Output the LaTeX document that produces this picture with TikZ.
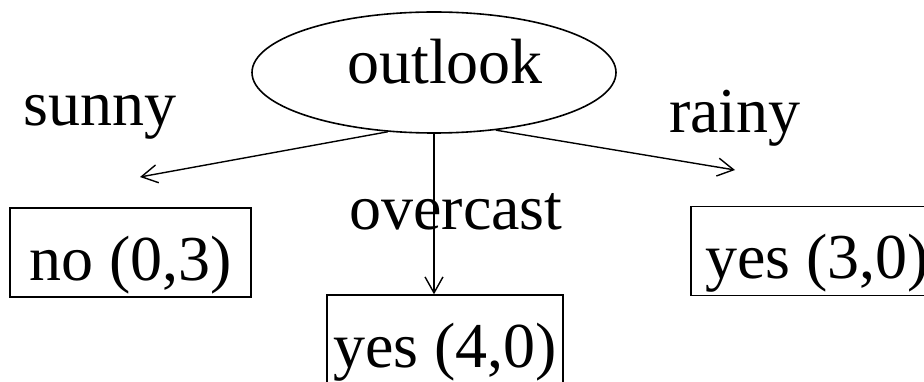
\documentclass[tikz,border=0pt]{standalone}
\usepackage{fontspec}
\setmainfont{Liberation Serif}
\usetikzlibrary{arrows.meta,shapes.geometric,positioning}
\newcommand{\treefont}{\fontsize{64pt}{72pt}\selectfont}

\begin{document}
\begin{tikzpicture}[x=1pt,y=1pt,
    attrnode/.style={draw, ellipse, line width=1.6pt, inner sep=0pt,
        minimum width=364pt, minimum height=121pt,
        text height=44pt, text depth=22pt, font=\treefont},
    leafbox/.style={draw, rectangle, line width=1.4pt, inner sep=0pt,
        minimum width=236pt, minimum height=89pt,
        text height=60pt, text depth=4pt, font=\treefont},
    branchlabel/.style={anchor=base, inner sep=0pt, font=\treefont},
    branch/.style={line width=1.4pt,
        -{Straight Barb[length=16pt,width=18pt,line width=1.4pt]}}]
    \useasboundingbox (0,0) rectangle (924,-382);
    \clip (0,0) rectangle (924,-382);

    % Root attribute
    \node[attrnode] (outlook) at (434,-72.5) {\hspace*{22pt}outlook};

    % Leaves
    \node[leafbox, minimum width=241pt] (bad) at (130.5,-252.5) {no (0,3)};
    \node[leafbox] (good) at (445,-339.5) {yes (4,0)};
    \node[leafbox, minimum width=252pt] (goodrain) at (817,-251) {yes (3,0)};

    % Arrow ends
    \coordinate (sunnytip) at (140,-177);
    \coordinate (rainytip) at (735,-170);

    % Branches
    \draw[branch] (outlook.232) -- (sunnytip);
    \draw[branch] (outlook.south) -- (outlook.south |- good.north);
    \draw[branch] (outlook.317) -- (rainytip);

    % Branch labels
    \node[branchlabel] (sunny) at (100,-126) {sunny};
    \node[branchlabel] (overcast) at (456,-230) {overcast};
    \node[branchlabel] (rainy) at (735,-133) {rainy};
\end{tikzpicture}
\end{document}
